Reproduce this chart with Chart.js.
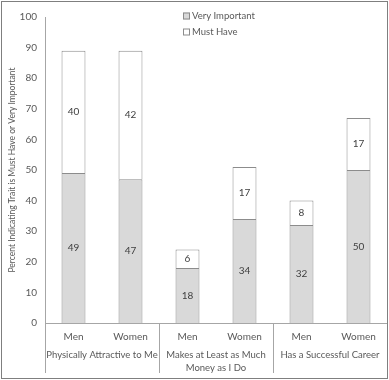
<!DOCTYPE html>
<html><head><meta charset="utf-8">
<script src="https://cdn.jsdelivr.net/npm/chart.js@4"></script>
<style>html,body{margin:0;padding:0;background:#fff}#wrap{width:389px;height:380px;position:relative}</style>
</head><body><div id="wrap"><canvas id="c" width="389" height="380"></canvas></div>
<script>
const categories = ['Men','Women','Men','Women','Men','Women'];
const groupLabels = [['Physically Attractive to Me'], ['Makes at Least as Much','Money as I Do'], ['Has a Successful Career']];
const groupSize = 2;
const veryImportant = [49,47,18,34,32,50];
const mustHave = [40,42,6,17,8,17];
const seriesNames = ['Very Important','Must Have'];
const yTitle = 'Percent Indicating Trait is Must Have or Very Important';

const FONT = 'Lato, "Open Sans", sans-serif';
const TXT = '#595959';
const EDGE = '#8c8c8c';

const extras = {
  id: 'extras',
  afterDatasetsDraw(chart) {
    const ctx = chart.ctx;
    ctx.save();
    ctx.font = '10px ' + FONT;
    ctx.fillStyle = '#404040';
    ctx.textAlign = 'center';
    ctx.textBaseline = 'middle';
    chart.data.datasets.forEach((ds, di) => {
      chart.getDatasetMeta(di).data.forEach((bar, i) => {
        const p = bar.getProps(['x','y','base'], true);
        ctx.fillText(String(ds.data[i]), p.x, (p.y + p.base) / 2);
      });
    });
    ctx.restore();
  },
  afterDraw(chart) {
    const ctx = chart.ctx;
    const xs = chart.scales.x, ca = chart.chartArea;
    ctx.save();
    ctx.strokeStyle = '#a6a6a6';
    ctx.lineWidth = 1;
    const n = categories.length;
    const bounds = [];
    for (let g = 0; g <= n / groupSize; g++) {
      let x;
      if (g === 0) x = ca.left;
      else if (g === n / groupSize) x = ca.right;
      else x = (xs.getPixelForValue(g * groupSize - 1) + xs.getPixelForValue(g * groupSize)) / 2;
      bounds.push(x);
      if (g < n / groupSize) {
        ctx.beginPath();
        ctx.moveTo(Math.round(x) + 0.5, ca.bottom);
        ctx.lineTo(Math.round(x) + 0.5, ca.bottom + 50);
        ctx.stroke();
      }
    }
    ctx.font = '9.5px ' + FONT;
    ctx.fillStyle = TXT;
    ctx.textAlign = 'center';
    ctx.textBaseline = 'middle';
    groupLabels.forEach((lines, g) => {
      const cx = (bounds[g] + bounds[g + 1]) / 2;
      lines.forEach((t, k) => ctx.fillText(t, cx, ca.bottom + 32 + k * 12.5));
    });
    ctx.font = '9.5px ' + FONT;
    const lx = 183, ly = [16, 32];
    chart.data.datasets.forEach((ds, di) => {
      ctx.fillStyle = ds.backgroundColor;
      ctx.fillRect(lx, ly[di] - 3.5, 7, 7);
      ctx.strokeStyle = EDGE;
      ctx.strokeRect(lx + 0.5, ly[di] - 3.5 + 0.5, 6, 6);
      ctx.fillStyle = TXT;
      ctx.textAlign = 'left';
      ctx.fillText(ds.label, lx + 9, ly[di]);
    });
    ctx.strokeStyle = '#7f7f7f';
    ctx.strokeRect(1.5, 1.5, chart.width - 3, chart.height - 3);
    ctx.restore();
  }
};

new Chart(document.getElementById('c'), {
  type: 'bar',
  data: {
    labels: categories,
    datasets: [
      { label: seriesNames[0], data: veryImportant, backgroundColor: '#d9d9d9', borderColor: EDGE, borderWidth: 1, borderSkipped: 'start' },
      { label: seriesNames[1], data: mustHave, backgroundColor: '#ffffff', borderColor: EDGE, borderWidth: 1, borderSkipped: 'start' }
    ]
  },
  options: {
    responsive: false,
    animation: false,
    devicePixelRatio: 1,
    layout: { padding: { left: 2, right: 2, top: 17, bottom: 0 } },
    datasets: { bar: { categoryPercentage: 1, barPercentage: 0.42 } },
    plugins: { legend: { display: false }, tooltip: { enabled: false } },
    scales: {
      x: {
        stacked: true,
        grid: { display: false },
        border: { display: true, color: '#a6a6a6' },
        ticks: { color: TXT, font: { family: FONT, size: 10 }, padding: 0, maxRotation: 0 },
        afterFit(s) { s.height = 57; }
      },
      y: {
        stacked: true,
        min: 0, max: 100,
        grid: { display: false },
        border: { display: true, color: '#a6a6a6' },
        ticks: { stepSize: 10, color: TXT, font: { family: FONT, size: 10 }, padding: 0 },
        title: { display: true, text: yTitle, color: TXT, font: { family: FONT, size: 8.5 }, padding: { top: 5, bottom: 0 } },
        afterFit(s) { s.width = 43; }
      }
    }
  },
  plugins: [extras]
});
</script></body></html>
